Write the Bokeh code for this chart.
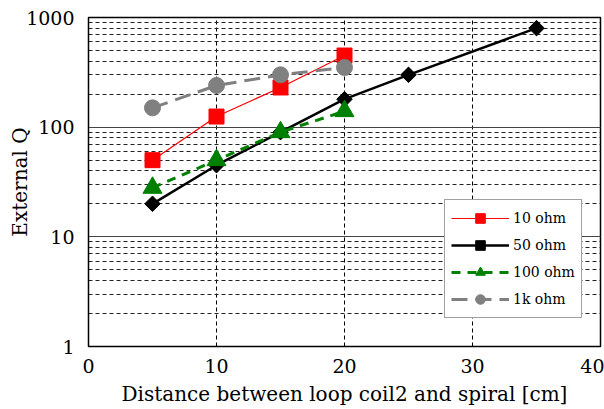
import math
from bokeh.plotting import figure
from bokeh.models import Legend, LegendItem, FixedTicker, LogTicker
from bokeh.embed import file_html
from bokeh.resources import INLINE

# External Q versus coil distance, one series per load resistance
x_10 = [5, 10, 15, 20]
q_10 = [50, 125, 230, 450]

x_50 = [5, 10, 15, 20, 25, 35]
q_50 = [20, 45, 90, 180, 300, 800]

x_100 = [5, 10, 15, 20]
q_100 = [28, 50, 90, 140]

x_1k = [5, 10, 15, 20]
q_1k = [150, 240, 300, 350]

x_ticks = [0, 10, 20, 30, 40]
y_ticks = [1, 10, 100, 1000]

FONT = "DejaVu Serif"

p = figure(width=604, height=409, y_axis_type="log",
           x_range=(0, 40), y_range=(1, 1000),
           output_backend="svg", toolbar_location=None,
           min_border_left=88, min_border_right=4,
           min_border_top=17, min_border_bottom=63)

p.outline_line_color = "black"
p.outline_line_width = 1.5

# grids
p.xgrid.ticker = FixedTicker(ticks=[10, 20, 30])
p.xgrid.grid_line_color = "black"
p.xgrid.grid_line_dash = "4 3"
p.xgrid.grid_line_width = 1
p.ygrid.ticker = LogTicker(num_minor_ticks=10)
p.ygrid.grid_line_color = "#444444"
p.ygrid.grid_line_width = 1.2
p.ygrid.minor_grid_line_color = "#222222"
p.ygrid.minor_grid_line_dash = "4 3"
p.ygrid.minor_grid_line_width = 1

# axes
p.xaxis.ticker = FixedTicker(ticks=x_ticks)
p.yaxis.ticker = FixedTicker(ticks=y_ticks)
p.yaxis.major_label_overrides = {1: "1", 10: "10", 100: "100", 1000: "1000"}
for ax in (p.xaxis[0], p.yaxis[0]):
    ax.major_tick_line_color = None
    ax.minor_tick_line_color = None
    ax.major_tick_out = 0
    ax.major_tick_in = 0
    ax.axis_line_color = "black"
    ax.major_label_text_font = FONT
    ax.major_label_text_font_size = "19px"
    ax.major_label_text_color = "black"
    ax.axis_label_text_font = FONT
    ax.axis_label_text_font_size = "20px"
    ax.axis_label_text_font_style = "normal"
    ax.axis_label_text_color = "black"
p.xaxis.axis_label = "Distance between loop coil2 and spiral [cm]"
p.xaxis.major_label_standoff = 12
p.xaxis.axis_label_standoff = 6
p.yaxis.axis_label = "External Q"
p.yaxis.major_label_standoff = 14
p.yaxis.axis_label_standoff = -9

# series
l10 = p.line(x_10, q_10, line_color="red", line_width=1.2)
m10 = p.scatter(x_10, q_10, marker="square", size=15, fill_color="red", line_color="red")

l50 = p.line(x_50, q_50, line_color="black", line_width=2.5)
m50 = p.scatter(x_50, q_50, marker="square", size=11, angle=math.pi / 4,
                fill_color="black", line_color="black")

l100 = p.line(x_100, q_100, line_color="green", line_width=3, line_dash="9 7")
m100 = p.scatter(x_100, q_100, marker="triangle", size=19, fill_color="green", line_color="green")

l1k = p.line(x_1k, q_1k, line_color="gray", line_width=3, line_dash="16 8")
m1k = p.scatter(x_1k, q_1k, marker="circle", size=16, fill_color="gray", line_color="gray")

legend = Legend(items=[
    LegendItem(label="10 ohm", renderers=[l10, m10]),
    LegendItem(label="50 ohm", renderers=[l50, m50]),
    LegendItem(label="100 ohm", renderers=[l100, m100]),
    LegendItem(label="1k ohm", renderers=[l1k, m1k]),
], location=(356, 28))
legend.label_text_font = FONT
legend.label_text_font_size = "14px"
legend.label_text_color = "black"
legend.glyph_width = 58
legend.glyph_height = 24
legend.spacing = 3
legend.padding = 6
legend.margin = 0
legend.label_standoff = 4
legend.border_line_color = "#444444"
legend.border_line_width = 1.2
legend.background_fill_color = "white"
legend.background_fill_alpha = 1
p.add_layout(legend, "center")

open("out.html", "w").write(file_html(p, INLINE))
